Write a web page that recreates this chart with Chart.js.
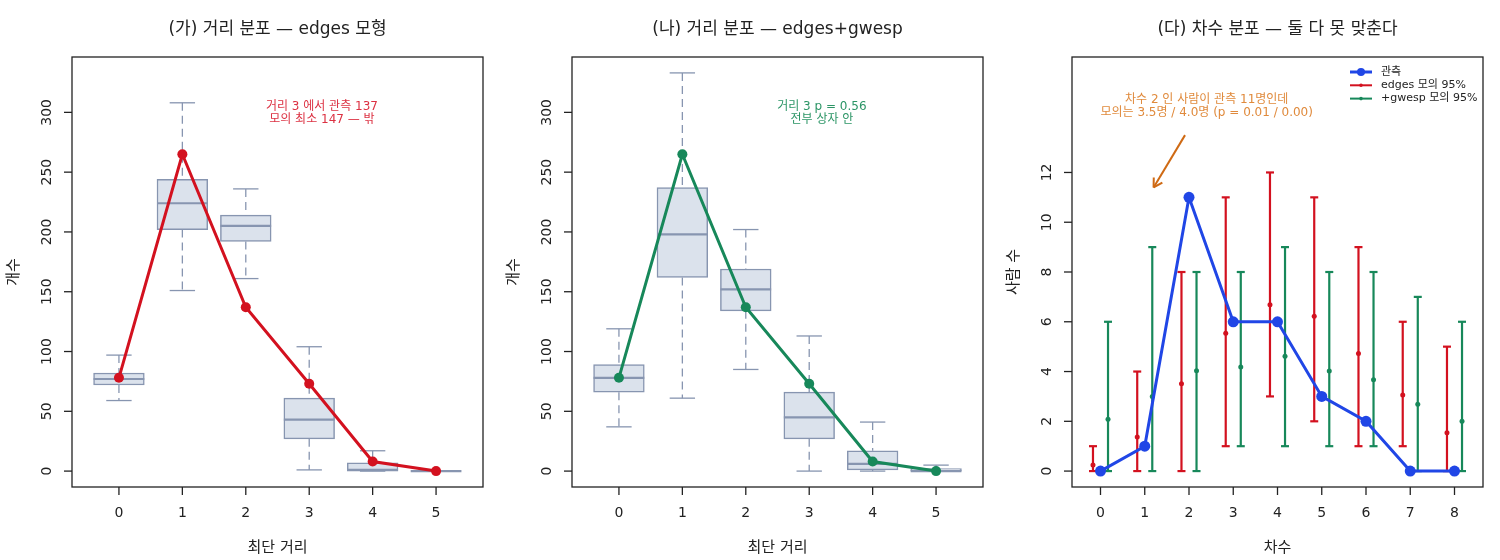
<!DOCTYPE html>
<html>
<head>
<meta charset="utf-8">
<script src="https://cdn.jsdelivr.net/npm/chart.js@4.4.1/dist/chart.umd.min.js"></script>
<style>
  body { margin: 0; background: #fff; }
  #wrap { position: relative; width: 1500px; height: 560px; }
  .panel { position: absolute; top: 0; width: 500px; height: 560px; }
</style>
</head>
<body>
<div id="wrap">
  <div class="panel" style="left:0"><canvas id="dist_edges" width="500" height="560"></canvas></div>
  <div class="panel" style="left:500px"><canvas id="dist_gwesp" width="500" height="560"></canvas></div>
  <div class="panel" style="left:1000px"><canvas id="degree" width="500" height="560"></canvas></div>
</div>
<script>
// ---- data: geodesic distance distribution ----
const distLabels = [0, 1, 2, 3, 4, 5];
const distObserved = [78, 265, 137, 73, 8, 0];
const distTicks = [0, 50, 100, 150, 200, 250, 300];

// edges model simulations (boxplot stats)
const edgesLow  = [59, 151, 161, 1, 0, 0];
const edgesQ1   = [72, 202, 192, 27, 0, 0];
const edgesMed  = [77, 224, 205, 43, 1, 0];
const edgesQ3   = [82, 244, 214, 61, 7, 0];
const edgesHigh = [97, 308, 236, 104, 17, 0];

// edges + gwesp model simulations
const gwespLow  = [37, 61, 85, 0, 0, 0];
const gwespQ1   = [66, 162, 134, 27, 1, 0];
const gwespMed  = [78, 198, 152, 45, 6, 0];
const gwespQ3   = [89, 237, 169, 66, 17, 2];
const gwespHigh = [119, 333, 202, 113, 41, 5];

// ---- data: degree distribution ----
const degLabels = [0, 1, 2, 3, 4, 5, 6, 7, 8];
const degObserved = [0, 1, 11, 6, 6, 3, 2, 0, 0];
const degTicks = [0, 2, 4, 6, 8, 10, 12];
const edgesDegMean = [0.24, 1.37, 3.51, 5.54, 6.68, 6.22, 4.72, 3.06, 1.54];
const edgesDegLo   = [0, 0, 0, 1, 3, 2, 1, 1, 0];
const edgesDegHi   = [1, 4, 8, 11, 12, 11, 9, 6, 5];
const gwespDegMean = [2.08, 3.0, 4.03, 4.18, 4.61, 4.02, 3.67, 2.69, 2.0];
const gwespDegLo   = [0, 0, 0, 1, 1, 1, 1, 0, 0];
const gwespDegHi   = [6, 9, 8, 8, 9, 8, 8, 7, 6];

// ---- styles ----
const FONT = '"DejaVu Sans", "Noto Sans CJK KR", sans-serif';
const RED = "#d3111f";
const GREEN = "#17885a";
const BLUE = "#2046e6";
const BOX_FILL = "#dbe2ec";
const BOX_LINE = "#8795b0";
const DODGE = 0.17;

function seg(ctx, x1, y1, x2, y2) {
  ctx.beginPath();
  ctx.moveTo(x1, y1);
  ctx.lineTo(x2, y2);
  ctx.stroke();
}

// R-style frame, ticks and titles
function axesPlugin(p) {
  return {
    id: "rAxes",
    afterDraw(chart) {
      const { ctx, chartArea: a, scales: { x, y } } = chart;
      ctx.save();
      ctx.strokeStyle = "#222";
      ctx.lineWidth = 1.3;
      ctx.strokeRect(a.left, a.top, a.right - a.left, a.bottom - a.top);
      ctx.fillStyle = "#222";
      ctx.font = "14px " + FONT;
      ctx.textAlign = "center";
      ctx.textBaseline = "middle";
      p.xTicks.forEach((v) => {
        const px = x.getPixelForValue(v);
        seg(ctx, px, a.bottom, px, a.bottom + 8);
        ctx.fillText(String(v), px, a.bottom + 26);
      });
      p.yTicks.forEach((v) => {
        const py = y.getPixelForValue(v);
        seg(ctx, a.left - 8, py, a.left, py);
        ctx.save();
        ctx.translate(a.left - 25, py);
        ctx.rotate(-Math.PI / 2);
        ctx.fillText(String(v), 0, 0);
        ctx.restore();
      });
      ctx.font = "17px " + FONT;
      ctx.fillText(p.title, (a.left + a.right) / 2, 30);
      ctx.font = "15px " + FONT;
      ctx.fillText(p.xTitle, (a.left + a.right) / 2, 548);
      ctx.save();
      ctx.translate(14, (a.top + a.bottom) / 2);
      ctx.rotate(-Math.PI / 2);
      ctx.fillText(p.yTitle, 0, 0);
      ctx.restore();

      // note text
      ctx.font = "12px " + FONT;
      ctx.fillStyle = p.noteColor;
      p.note.forEach((t, i) => {
        ctx.fillText(t, x.getPixelForValue(p.noteAt[0]), y.getPixelForValue(p.noteAt[1]) + i * 13);
      });
      ctx.restore();
    },
  };
}

// whiskers, caps and medians on top of the boxes
function whiskerPlugin(b) {
  return {
    id: "whiskers",
    afterDatasetDraw(chart, args) {
      if (args.index !== 1) return;
      const { ctx, scales: { y } } = chart;
      ctx.save();
      ctx.strokeStyle = BOX_LINE;
      args.meta.data.forEach((bar, i) => {
        const cx = bar.x, hw = bar.width / 2, cap = bar.width / 4;
        const yLo = y.getPixelForValue(b.low[i]);
        const yQ1 = y.getPixelForValue(b.q1[i]);
        const yQ3 = y.getPixelForValue(b.q3[i]);
        const yHi = y.getPixelForValue(b.high[i]);
        const yMd = y.getPixelForValue(b.med[i]);
        ctx.lineWidth = 1.3;
        ctx.setLineDash([8, 5]);
        seg(ctx, cx, yHi, cx, yQ3);
        seg(ctx, cx, yQ1, cx, yLo);
        ctx.setLineDash([]);
        seg(ctx, cx - cap, yHi, cx + cap, yHi);
        seg(ctx, cx - cap, yLo, cx + cap, yLo);
        ctx.lineWidth = 2.2;
        seg(ctx, cx - hw, yMd, cx + hw, yMd);
      });
      ctx.restore();
    },
  };
}

function distChart(id, color, b, p) {
  new Chart(document.getElementById(id), {
    type: "bar",
    data: {
      datasets: [
        {
          type: "line",
          order: 1,
          data: distLabels.map((x, i) => ({ x: x, y: distObserved[i] })),
          borderColor: color,
          borderWidth: 3,
          pointRadius: 5,
          pointBackgroundColor: color,
          pointBorderWidth: 0,
          tension: 0,
        },
        {
          type: "bar",
          order: 2,
          data: distLabels.map((x, i) => ({ x: x, y: [b.q1[i], b.q3[i]] })),
          backgroundColor: BOX_FILL,
          borderColor: BOX_LINE,
          borderWidth: 1.5,
          borderSkipped: false,
          barThickness: "flex",
          categoryPercentage: 0.8,
          barPercentage: 1.0,
        },
      ],
    },
    options: {
      responsive: false,
      animation: false,
      events: [],
      layout: { padding: { left: 72, right: 17, top: 57, bottom: 73 } },
      scales: {
        x: { type: "linear", min: -0.74, max: 5.74, offset: false, display: false },
        y: { type: "linear", min: -13.3, max: 346.3, display: false },
      },
      plugins: { legend: { display: false }, tooltip: { enabled: false } },
    },
    plugins: [whiskerPlugin(b), axesPlugin(p)],
  });
}

distChart("dist_edges", RED,
  { low: edgesLow, q1: edgesQ1, med: edgesMed, q3: edgesQ3, high: edgesHigh },
  {
    title: "(가) 거리 분포 — edges 모형", xTitle: "최단 거리", yTitle: "개수",
    xTicks: distLabels, yTicks: distTicks,
    note: ["거리 3 에서 관측 137", "모의 최소 147 — 밖"], noteAt: [3.2, 305], noteColor: "#dc3142",
  });

distChart("dist_gwesp", GREEN,
  { low: gwespLow, q1: gwespQ1, med: gwespMed, q3: gwespQ3, high: gwespHigh },
  {
    title: "(나) 거리 분포 — edges+gwesp", xTitle: "최단 거리", yTitle: "개수",
    xTicks: distLabels, yTicks: distTicks,
    note: ["거리 3 p = 0.56", "전부 상자 안"], noteAt: [3.2, 305], noteColor: "#2c9566",
  });

// ---- degree panel ----
const arrowFrom = [1.91, 13.5];
const arrowTo = [1.2, 11.4];

const errorBarPlugin = {
  id: "errorBars",
  beforeDatasetsDraw(chart) {
    const { ctx, scales: { x, y } } = chart;
    const sets = [
      { lo: edgesDegLo, hi: edgesDegHi, dx: -DODGE, color: RED },
      { lo: gwespDegLo, hi: gwespDegHi, dx: DODGE, color: GREEN },
    ];
    ctx.save();
    ctx.lineWidth = 2.2;
    sets.forEach((s) => {
      ctx.strokeStyle = s.color;
      degLabels.forEach((d, i) => {
        const px = x.getPixelForValue(d + s.dx);
        const y1 = y.getPixelForValue(s.lo[i]);
        const y2 = y.getPixelForValue(s.hi[i]);
        seg(ctx, px, y1, px, y2);
        seg(ctx, px - 4, y1, px + 4, y1);
        seg(ctx, px - 4, y2, px + 4, y2);
      });
    });
    ctx.restore();
  },
  afterDraw(chart) {
    const { ctx, chartArea: a, scales: { x, y } } = chart;
    ctx.save();
    // arrow
    const x1 = x.getPixelForValue(arrowFrom[0]), y1 = y.getPixelForValue(arrowFrom[1]);
    const x2 = x.getPixelForValue(arrowTo[0]), y2 = y.getPixelForValue(arrowTo[1]);
    ctx.strokeStyle = "#cf6a14";
    ctx.lineWidth = 2;
    seg(ctx, x1, y1, x2, y2);
    const ang = Math.atan2(y2 - y1, x2 - x1);
    [Math.PI / 6, -Math.PI / 6].forEach((t) => {
      seg(ctx, x2, y2, x2 - 10 * Math.cos(ang + t), y2 - 10 * Math.sin(ang + t));
    });
    // legend
    const items = [
      { label: "관측", color: BLUE, w: 3, r: 4 },
      { label: "edges 모의 95%", color: RED, w: 2, r: 1.8 },
      { label: "+gwesp 모의 95%", color: GREEN, w: 2, r: 1.8 },
    ];
    ctx.font = "11px " + FONT;
    ctx.textAlign = "left";
    ctx.textBaseline = "middle";
    items.forEach((it, i) => {
      const ly = a.top + 15 + i * 13.3;
      ctx.strokeStyle = it.color;
      ctx.lineWidth = it.w;
      seg(ctx, a.right - 133, ly, a.right - 111, ly);
      ctx.fillStyle = it.color;
      ctx.beginPath();
      ctx.arc(a.right - 122, ly, it.r, 0, Math.PI * 2);
      ctx.fill();
      ctx.fillStyle = "#222";
      ctx.fillText(it.label, a.right - 102, ly);
    });
    ctx.restore();
  },
};

new Chart(document.getElementById("degree"), {
  type: "scatter",
  data: {
    datasets: [
      {
        order: 1,
        showLine: true,
        data: degLabels.map((d, i) => ({ x: d, y: degObserved[i] })),
        borderColor: BLUE,
        borderWidth: 3,
        pointRadius: 5.5,
        pointBackgroundColor: BLUE,
        pointBorderWidth: 0,
      },
      {
        order: 2,
        data: degLabels.map((d, i) => ({ x: d - DODGE, y: edgesDegMean[i] })),
        pointRadius: 2.5,
        pointBackgroundColor: RED,
        pointBorderWidth: 0,
      },
      {
        order: 3,
        data: degLabels.map((d, i) => ({ x: d + DODGE, y: gwespDegMean[i] })),
        pointRadius: 2.5,
        pointBackgroundColor: GREEN,
        pointBorderWidth: 0,
      },
    ],
  },
  options: {
    responsive: false,
    animation: false,
    events: [],
    layout: { padding: { left: 72, right: 17, top: 57, bottom: 73 } },
    scales: {
      x: { type: "linear", min: -0.644, max: 8.644, display: false },
      y: { type: "linear", min: -0.64, max: 16.64, display: false },
    },
    plugins: { legend: { display: false }, tooltip: { enabled: false } },
  },
  plugins: [
    errorBarPlugin,
    axesPlugin({
      title: "(다) 차수 분포 — 둘 다 못 맞춘다", xTitle: "차수", yTitle: "사람 수",
      xTicks: degLabels, yTicks: degTicks,
      note: ["차수 2 인 사람이 관측 11명인데", "모의는 3.5명 / 4.0명 (p = 0.01 / 0.00)"],
      noteAt: [2.4, 14.9], noteColor: "#e08a3c",
    }),
  ],
});
</script>
</body>
</html>
